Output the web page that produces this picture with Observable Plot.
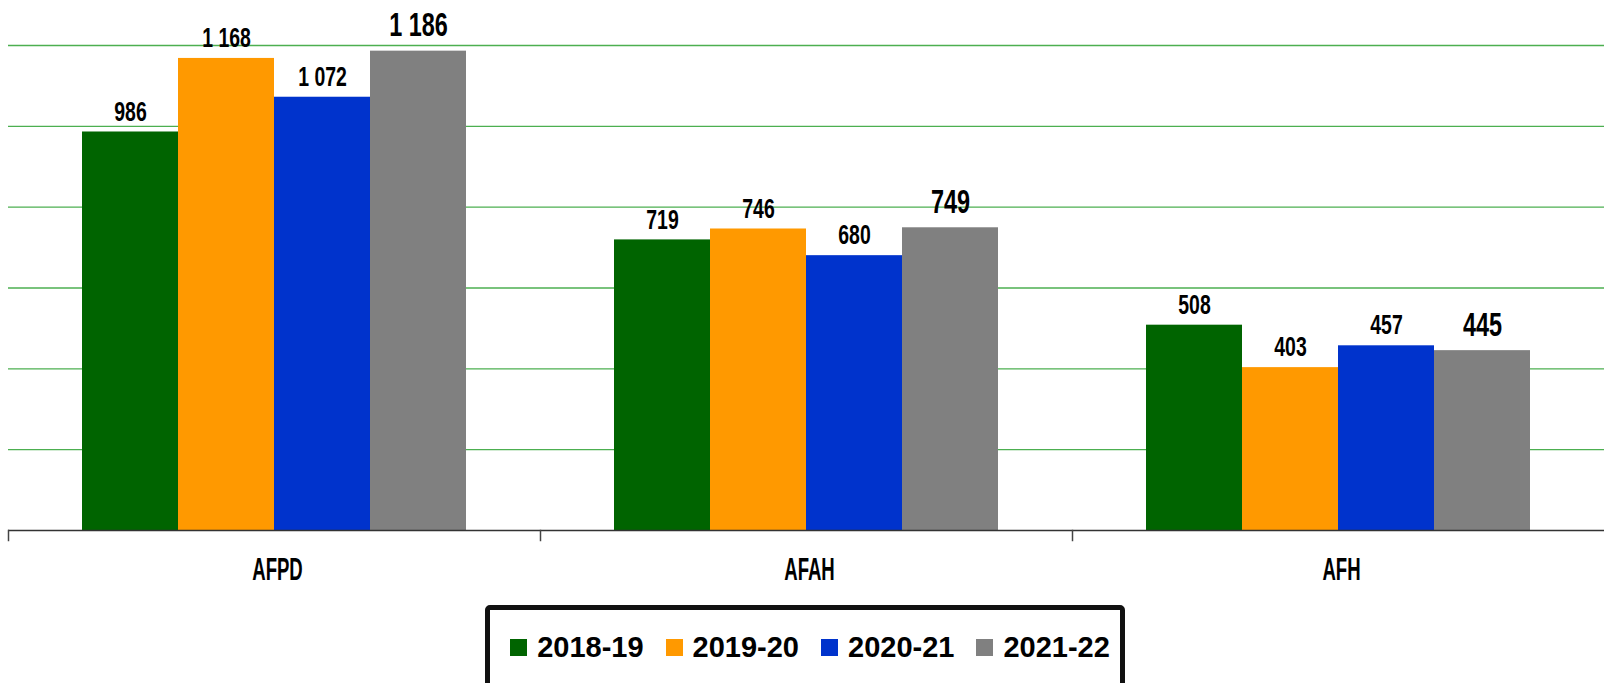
<!DOCTYPE html>
<html>
<head>
<meta charset="utf-8">
<script src="https://cdn.jsdelivr.net/npm/d3@7"></script>
<script src="https://cdn.jsdelivr.net/npm/@observablehq/plot@0.6"></script>
<style>
  html, body { margin: 0; padding: 0; background: #fff; width: 1604px; height: 683px; overflow: hidden; }
  #chart { position: relative; width: 1604px; }
  #legend {
    position: absolute; left: 485px; top: 605px; width: 640px; height: 95px;
    box-sizing: border-box; border: 5px solid #111; border-radius: 5px; background: #fff;
    display: flex; justify-content: center; align-items: flex-start; padding-top: 21px; padding-left: 10px;
    font-family: "Liberation Sans", Arial, sans-serif; font-weight: bold; font-size: 29px; color: #000;
    white-space: nowrap;
  }
  .item { display: flex; align-items: center; margin: 0 11px; line-height: 32px; flex-shrink: 0; }
  .sw { width: 17px; height: 17px; margin-right: 10px; flex-shrink: 0; }
</style>
</head>
<body>
<div id="chart"></div>
<script>
const categories = ["AFPD", "AFAH", "AFH"];
const series = ["2018-19", "2019-20", "2020-21", "2021-22"];
const colors = ["#006400", "#FF9900", "#0033CC", "#808080"];
const values = {
  "2018-19": [986, 719, 508],
  "2019-20": [1168, 746, 403],
  "2020-21": [1072, 680, 457],
  "2021-22": [1186, 749, 445]
};
const gridValues = [200, 400, 600, 800, 1000, 1200];

const data = [];
categories.forEach((c, i) => series.forEach(s => data.push({cat: c, series: s, value: values[s][i]})));

const locale = d3.formatLocale({thousands: " ", grouping: [3], decimal: ","});
const fmt = locale.format(",d");
const lastSeries = series[series.length - 1];

const plot = Plot.plot({
  width: 1604,
  height: 600,
  marginLeft: 8,
  marginRight: 0,
  marginTop: 45,
  marginBottom: 70,
  style: {fontFamily: "'Liberation Sans', Arial, sans-serif", color: "#000", background: "#fff"},
  fx: {domain: categories, padding: 0, label: null},
  x: {domain: series, paddingInner: 0, paddingOuter: 0.757, axis: null},
  y: {domain: [0, 1200], axis: null},
  color: {domain: series, range: colors},
  marks: [
    Plot.ruleY(gridValues, {stroke: "#4caf50", strokeWidth: 1.3}),
    Plot.barY(data, {fx: "cat", x: "series", y: "value", fill: "series"}),
    Plot.ruleY([0], {stroke: "#333", strokeWidth: 1.5}),
    Plot.frame({anchor: "left", insetTop: 485, insetBottom: -10, stroke: "#444", strokeWidth: 1.5}),
    Plot.text(data.filter(d => d.series !== lastSeries), {
      fx: "cat", x: "series", y: "value", text: d => fmt(d.value),
      dy: -20, fontSize: 27, fontWeight: "bold", fill: "#000"
    }),
    Plot.text(data.filter(d => d.series === lastSeries), {
      fx: "cat", x: "series", y: "value", text: d => fmt(d.value),
      dy: -26, fontSize: 34, fontWeight: "bold", fill: "#000"
    }),
    Plot.axisFx({anchor: "bottom", tickSize: 0, tickPadding: 27, fontSize: 32, fontWeight: "bold", label: null, dx: 3})
  ]
});

// condense chart text horizontally (reference uses a condensed typeface)
function condense(sel, k) {
  sel.each(function() {
    const el = d3.select(this);
    let pre = "";
    const xa = el.attr("x");
    if (xa != null && !/em$/.test(xa)) { pre += ` translate(${+xa},0)`; el.attr("x", null); }
    const ya = el.attr("y");
    if (ya != null && !/em$/.test(ya)) { pre += ` translate(0,${+ya})`; el.attr("y", null); }
    const t = el.attr("transform") || "";
    el.attr("transform", `${t}${pre} scale(${k},1)`);
  });
}
const textGroups = d3.select(plot).selectAll('g[aria-label="text"]').nodes();
condense(d3.select(textGroups[0]).selectAll("text"), 0.72);
condense(d3.select(textGroups[1]).selectAll("text"), 0.69);
condense(d3.select(plot).selectAll('g[aria-label="fx-axis tick label"] text'), 0.58);

document.getElementById("chart").appendChild(plot);

const legend = d3.select("#chart").append("div").attr("id", "legend");
const items = legend.selectAll(".item").data(series).join("div").attr("class", "item");
items.append("div").attr("class", "sw").style("background", (d, i) => colors[i]);
items.append("span").text(d => d);
</script>
</body>
</html>
